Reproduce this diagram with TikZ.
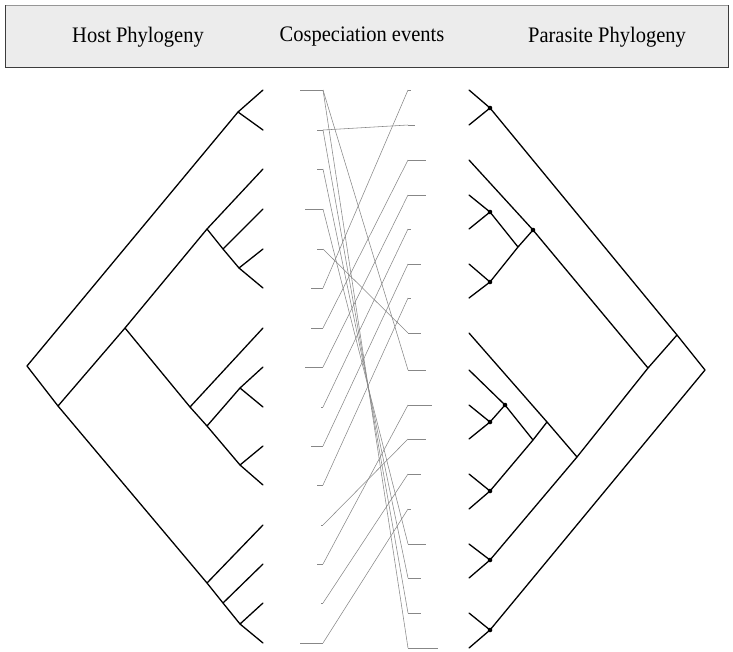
\documentclass[tikz,border=0pt]{standalone}
\usepackage{fontspec}
\setmainfont{Liberation Serif}
\definecolor{headfill}{RGB}{236,236,236}
\definecolor{headedge}{RGB}{60,60,60}
\definecolor{headtop}{RGB}{150,150,150}
\definecolor{linkgray}{RGB}{135,135,135}
\begin{document}
\begin{tikzpicture}[x=1pt,y=-1pt,
  tree/.style={line width=1.3pt, line cap=round, line join=round},
  link/.style={line width=0.55pt, draw=linkgray},
  cospec/.style={circle, fill=black, inner sep=0pt, minimum size=4.6pt},
  title/.style={font=\fontsize{20.5}{24}\selectfont, inner sep=0pt}]
\useasboundingbox (0,0) rectangle (733,651);

% header panel
\fill[headfill] (5,5) rectangle (728,67);
\draw[headtop, line width=0.8pt] (5,5) -- (728,5);
\draw[headedge, line width=1pt] (5,5) -- (5,67) -- (728,67) -- (728,5);
\node[title] (hosttitle) at (138,37) {\scalebox{1}[1.08]{Host Phylogeny}};
\node[title] (cotitle) at (362,37) {\scalebox{1}[1.08]{Cospeciation events}};
\node[title] (partitle) at (607,37) {\scalebox{1}[1.08]{Parasite Phylogeny}};

% ---------------- host tree (root on the left) ----------------
\foreach \i/\y in {1/90,2/130,3/169,4/209,5/249,6/288,7/328,8/367,9/407,10/446,11/485,12/525,13/564,14/603,15/643}
  \coordinate (hl\i) at (263,\y);
\coordinate (hR) at (27,366);
\coordinate (hA) at (238,112);
\coordinate (hE) at (58,406);
\coordinate (hB) at (125,328);
\coordinate (hC) at (207,229);
\coordinate (hH) at (223,249);
\coordinate (hI) at (239,268);
\coordinate (hD) at (190,407);
\coordinate (hJ) at (207,426);
\coordinate (hK) at (240,388);
\coordinate (hL) at (240,465);
\coordinate (hG) at (207,583);
\coordinate (hM) at (223,603);
\coordinate (hN) at (240,624);

\draw[tree] (hl1) -- (hA) -- (hl2);
\draw[tree] (hA) -- (hR) -- (hE) -- (hG) -- (hM) -- (hN) -- (hl15);
\draw[tree] (hE) -- (hB) -- (hC) -- (hl3);
\draw[tree] (hC) -- (hH) -- (hI) -- (hl6);
\draw[tree] (hH) -- (hl4);
\draw[tree] (hI) -- (hl5);
\draw[tree] (hB) -- (hD) -- (hl7);
\draw[tree] (hD) -- (hJ) -- (hL) -- (hl11);
\draw[tree] (hJ) -- (hK) -- (hl8);
\draw[tree] (hK) -- (hl9);
\draw[tree] (hL) -- (hl10);
\draw[tree] (hG) -- (hl12);
\draw[tree] (hM) -- (hl13);
\draw[tree] (hN) -- (hl14);

% ---------------- parasite tree (root on the right) ----------------
\foreach \i/\y in {1/90,2/125,3/160,4/195,5/229,6/264,7/298,8/333,9/370,10/405,11/439,12/474,13/509,14/544,15/578,16/613,17/648}
  \coordinate (pl\i) at (469,\y);
\coordinate (pR) at (705,370);
\coordinate (pQ) at (677,335);
\coordinate (pS) at (648,368);
\coordinate (pW) at (577,457);
\coordinate (pV) at (547,422);
\coordinate (pY) at (533,440);
\coordinate (pU) at (518,247);
\coordinate (pP1) at (490,108);
\coordinate (pT) at (533,230);
\coordinate (pP2) at (490,212);
\coordinate (pP3) at (490,282);
\coordinate (pX) at (505,405);
\coordinate (pZ) at (490,422);
\coordinate (pP4) at (490,491);
\coordinate (pP5) at (490,560);
\coordinate (pP6) at (490,630);

\draw[tree] (pl1) -- (pP1) -- (pl2);
\draw[tree] (pP1) -- (pQ) -- (pR) -- (pP6);
\draw[tree] (pl16) -- (pP6) -- (pl17);
\draw[tree] (pQ) -- (pS) -- (pW) -- (pP5);
\draw[tree] (pl14) -- (pP5) -- (pl15);
\draw[tree] (pl3) -- (pT) -- (pS);
\draw[tree] (pT) -- (pU) -- (pP3);
\draw[tree] (pU) -- (pP2);
\draw[tree] (pl4) -- (pP2) -- (pl5);
\draw[tree] (pl6) -- (pP3) -- (pl7);
\draw[tree] (pl8) -- (pV) -- (pW);
\draw[tree] (pV) -- (pY) -- (pP4);
\draw[tree] (pY) -- (pX) -- (pl9);
\draw[tree] (pX) -- (pZ);
\draw[tree] (pl10) -- (pZ) -- (pl11);
\draw[tree] (pl12) -- (pP4) -- (pl13);

% cospeciation nodes
\foreach \n in {pP1,pT,pP2,pP3,pX,pZ,pP4,pP5,pP6}
  \node[cospec] (dot\n) at (\n) {};

% ---------------- associations ----------------
\foreach \i/\y/\s in {1/90/300,2/130/317,3/169/317,4/209/305,5/249/317,6/288/311,7/328/311,8/367/305,9/407/321,10/446/311,11/485/317,12/525/321,13/564/317,14/603/321,15/643/300}{
  \coordinate (hs\i) at (\s,\y);
  \coordinate (hb\i) at (323,\y);
  \draw[link] (hs\i) -- (hb\i);
}
\foreach \j/\y/\e in {1/90/411,2/125/415,3/160/426,4/195/426,5/229/411,6/264/421,7/298/411,8/333/421,9/370/426,10/405/432,11/439/426,12/474/421,13/509/411,14/544/426,15/578/421,16/613/421,17/648/438}{
  \coordinate (pb\j) at (408,\y);
  \coordinate (pe\j) at (\e,\y);
  \draw[link] (pb\j) -- (pe\j);
}
\foreach \a/\b in {1/9,1/17,2/2,2/16,3/15,4/14,5/8,6/1,7/3,8/4,9/5,10/6,11/7,12/11,13/10,14/12,15/13}
  \draw[link] (hb\a) -- (pb\b);
\end{tikzpicture}
\end{document}
